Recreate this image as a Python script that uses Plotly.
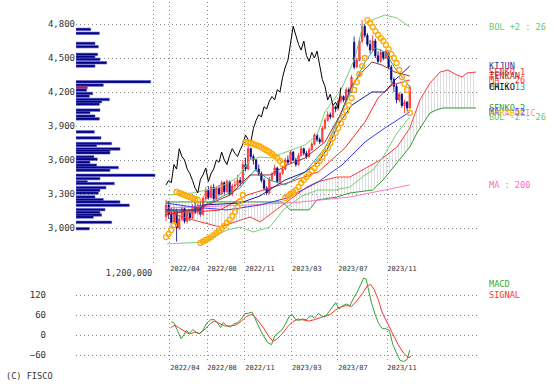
import plotly.graph_objects as go

W, H = 556, 391

# ---------------- data ----------------
week = list(range(93))
open_ = [3100, 3200, 3120, 3050, 3150, 3000, 3080, 3170, 3060, 3130, 3090, 3190, 3140, 3200, 3120, 3260, 3330, 3270, 3360, 3260,
         3350, 3300, 3400, 3320, 3410, 3300, 3370, 3380, 3420, 3400, 3560, 3520, 3700, 3630, 3600, 3520, 3480, 3420, 3350, 3310,
         3430, 3470, 3530, 3410, 3480, 3520, 3600, 3580, 3670, 3600, 3560, 3640, 3700, 3660, 3630, 3690, 3740, 3820, 3780, 3760,
         3880, 3950, 4000, 3980, 4070, 4050, 4120, 4160, 4130, 4220, 4200, 4640, 4420, 4480, 4650, 4780, 4700, 4620, 4570, 4650,
         4520, 4470, 4550, 4500, 4560, 4420, 4310, 4250, 4130, 4180, 4080, 4110, 4060]
high = [3250, 3240, 3180, 3190, 3170, 3110, 3200, 3190, 3150, 3160, 3210, 3230, 3220, 3240, 3280, 3360, 3370, 3380, 3390, 3370,
        3380, 3420, 3410, 3430, 3420, 3390, 3420, 3470, 3450, 3600, 3620, 3730, 3710, 3650, 3610, 3560, 3500, 3440, 3370, 3450,
        3490, 3560, 3540, 3500, 3550, 3620, 3640, 3690, 3680, 3620, 3660, 3720, 3710, 3680, 3710, 3760, 3840, 3830, 3800, 3900,
        3970, 4030, 4020, 4090, 4080, 4140, 4180, 4170, 4240, 4240, 4350, 4690, 4500, 4680, 4835, 4800, 4720, 4660, 4700, 4670,
        4560, 4580, 4560, 4570, 4565, 4440, 4330, 4270, 4200, 4190, 4130, 4120, 4260]
low = [3060, 3080, 3000, 3030, 2880, 2980, 3060, 3040, 3040, 3060, 3080, 3120, 3120, 3100, 3110, 3240, 3250, 3260, 3240, 3250,
       3280, 3290, 3300, 3310, 3290, 3280, 3330, 3360, 3370, 3390, 3500, 3510, 3600, 3560, 3500, 3460, 3400, 3330, 3290, 3300,
       3410, 3460, 3400, 3400, 3470, 3510, 3560, 3570, 3590, 3540, 3550, 3630, 3640, 3610, 3620, 3680, 3730, 3760, 3740, 3750,
       3870, 3940, 3960, 3970, 4020, 4040, 4100, 4110, 4120, 4170, 4190, 4400, 4410, 4470, 4630, 4680, 4600, 4540, 4560, 4500,
       4450, 4460, 4480, 4490, 4400, 4280, 4200, 4100, 4110, 4060, 4015, 4030, 4050]
close = [3200, 3120, 3050, 3150, 3000, 3080, 3170, 3060, 3130, 3090, 3190, 3140, 3200, 3120, 3260, 3330, 3270, 3360, 3260, 3350,
         3300, 3400, 3320, 3410, 3300, 3370, 3380, 3420, 3400, 3560, 3520, 3700, 3630, 3600, 3520, 3480, 3420, 3350, 3310, 3430,
         3470, 3530, 3410, 3480, 3520, 3600, 3580, 3670, 3600, 3560, 3640, 3700, 3660, 3630, 3690, 3740, 3820, 3780, 3760, 3880,
         3950, 4000, 3980, 4070, 4050, 4120, 4160, 4130, 4220, 4200, 4330, 4420, 4480, 4650, 4780, 4700, 4620, 4570, 4650, 4520,
         4470, 4550, 4500, 4560, 4420, 4310, 4250, 4130, 4180, 4080, 4110, 4060, 4240]
chikou_shift = 26

ma13_x = [0, 9, 18.5, 27.9, 33.6, 39.2, 44.9, 52.5, 60, 66.4, 71.3, 75.1, 78.9, 82.6, 86.4, 92]
ma13_y = [3159, 3141, 3247, 3353, 3512, 3423, 3379, 3494, 3706, 4024, 4288, 4465, 4588, 4553, 4412, 4244]
ma26_x = [0, 10.9, 20.4, 30.6, 39.2, 45.7, 57.4, 67.5, 75.1, 80, 85.3, 92]
ma26_y = [3141, 3141, 3159, 3291, 3353, 3397, 3494, 3706, 3935, 4147, 4262, 4306]
ma52_x = [0, 10.2, 23, 35.5, 45.7, 57.4, 66.4, 75.1, 82.6, 92]
ma52_y = [3220, 3185, 3159, 3203, 3265, 3406, 3556, 3759, 3882, 4024]
ma200_x = [0, 31.7, 50.6, 69.4, 92]
ma200_y = [3176, 3203, 3229, 3273, 3380]
kijun_x = [0, 12.8, 14, 27.9, 35.5, 44.9, 52.5, 57.4, 61.1, 64.9, 70.2, 77.7, 82.6, 86.4, 92]
kijun_y = [3159, 3159, 3203, 3220, 3283, 3423, 3494, 3582, 3706, 3909, 4085, 4200, 4200, 4306, 4429]
tenkan_x = [0, 12.8, 24.2, 31.7, 39.2, 45.7, 52.5, 60, 65.7, 70.2, 74, 77.7, 81.5, 86.4, 92]
tenkan_y = [3115, 3176, 3291, 3468, 3468, 3556, 3618, 3759, 3997, 4262, 4376, 4465, 4438, 4376, 4341]
bol_up_x = [0.75, 10.2, 20.4, 26.8, 31.7, 35.5, 39.2, 45.7, 49.4, 52.5, 57, 60, 66.4, 71.3, 74.3, 77.7, 82.6, 87.2, 92]
bol_up_y = [3291, 3309, 3362, 3441, 3600, 3627, 3618, 3671, 3706, 3733, 3821, 4024, 4235, 4500, 4791, 4835, 4879, 4853, 4774]
bol_dn_x = [0.4, 14, 23, 27.9, 32.8, 39.2, 44.2, 51.3, 57.4, 63.8, 69.4, 75.1, 78.1, 81.9, 87.2, 91, 92]
bol_dn_y = [2859, 2876, 2982, 3009, 2965, 3009, 3159, 3283, 3335, 3335, 3362, 3468, 3512, 3627, 3838, 3953, 3980]
senkou1_x = [0, 6, 12, 20.4, 31.7, 35.5, 43, 47.9, 53.2, 57, 64.5, 69.4, 74.3, 80.8, 87.2, 92, 95.8, 99.6, 103.4,
             106.4, 109.8, 111.7, 113.6, 117]
senkou1_y = [3150, 3100, 3060, 3009, 3097, 3053, 3185, 3273, 3362, 3406, 3450, 3450, 3512, 3600, 3715, 3882, 4129, 4279, 4376,
             4394, 4350, 4332, 4368, 4376]
senkou2_x = [0, 20, 44, 46.8, 54, 57, 64.5, 69.4, 78, 81.9, 87.2, 92, 94.7, 97, 99.6, 102, 104.5, 117]
senkou2_y = [3230, 3230, 3230, 3160, 3160, 3247, 3273, 3309, 3335, 3423, 3574, 3715, 3838, 3926, 4015, 4041, 4059, 4059]
sar_y = [2920, 2947, 2982, 3026,
         3318, 3309, 3300, 3291, 3282, 3273, 3265, 3256, 3247,
         2868, 2881, 2894, 2907, 2920, 2938, 2956, 2973, 2996, 3018, 3044, 3071, 3106, 3141, 3185, 3238, 3291,
         3759, 3755, 3750, 3741, 3732, 3724, 3711, 3697, 3684, 3671, 3653, 3635, 3618, 3591, 3565,
         3265, 3282, 3300, 3318, 3335, 3362, 3397, 3423, 3450, 3476, 3503, 3529, 3565, 3591, 3627, 3662, 3706, 3750,
         3794, 3838, 3882, 3926, 3979, 4032, 4085, 4147, 4218, 4288, 4359, 4429, 4500,
         4835, 4809, 4774, 4738, 4703, 4676, 4650, 4615, 4579, 4535, 4500, 4456, 4394, 4332, 4271, 4218,
         4015]

vp_price = [4753, 4718, 4629, 4600, 4532, 4511, 4488, 4458, 4429, 4290, 4261, 4240, 4217, 4187, 4164, 4134, 4114, 4093, 4040,
            4019, 3987, 3963, 3848, 3795, 3745, 3728, 3698, 3681, 3663, 3627, 3607, 3580, 3554, 3533, 3510, 3465, 3436, 3407,
            3392, 3356, 3333, 3309, 3274, 3250, 3230, 3200, 3162, 3138, 3115, 3097, 3050, 2994]
vp_volume = [229000, 364000, 296000, 348000, 338000, 296000, 374000, 478000, 296000, 1164000, 426000, 177000, 166000, 260000,
             208000, 520000, 400000, 364000, 374000, 218000, 296000, 364000, 286000, 390000, 556000, 322000, 686000, 530000,
             530000, 280000, 332000, 218000, 322000, 660000, 530000, 1231000, 374000, 177000, 597000, 468000, 374000, 348000,
             296000, 426000, 686000, 831000, 452000, 374000, 400000, 270000, 556000, 208000]

macd_x = [2, 3, 4.3, 5.7, 6.8, 7.7, 8.8, 10.1, 11.5, 12.6, 13.9, 15.3, 16.9, 18.2, 19.6, 20.6, 21.6, 22.9, 24.3, 25.6,
          27, 28.3, 29.7, 31, 32.4, 33.3, 34.4, 36.4, 38.4, 39.8, 41.1, 42.5, 43.8, 45.2, 46.5, 47.6, 48.9, 50.3, 51.6, 53,
          54.6, 56, 57.6, 58.6, 60, 61.4, 62.7, 64, 65.4, 66.8, 68.1, 69.4, 70.8, 72.1, 73.5, 74.6, 75.5, 76.6, 77.5, 78.9,
          80.2, 81.6, 82.9, 84.3, 85.6, 86.9, 88.3, 89.7, 91, 92]
macd_v = [40, 37, 14, -11, 1, 14, 5, 16, 8, 3, 14, 35, 46, 46, 35, 22, 37, 28, 24, 33,
          37, 46, 64, 65, 69, 56, 35, 3, -23, -29, -2, 8, 16, 35, 56, 62, 46, 44, 48, 46,
          58, 51, 65, 58, 54, 69, 84, 97, 78, 88, 93, 88, 111, 128, 152, 171, 168, 130, 98, 62,
          35, 19, 19, 14, -29, -52, -76, -80, -73, -45]
signal_x = [1.8, 3.4, 4.8, 6.8, 8.8, 10.8, 12.8, 14.9, 16.9, 18.2, 20.2, 22.2, 24.3, 26.3, 28.3, 30.3, 32.4, 33.7, 35, 37,
            39, 40.4, 41.8, 43.8, 45.8, 47.8, 49.9, 51.9, 53.9, 56, 58, 60, 62, 64, 66.1, 68.1, 70.1, 72.1, 74.2, 75.9,
            77.2, 78.6, 80.2, 81.6, 83.6, 85.6, 87.6, 89.7, 91.7, 92.5]
signal_v = [22, 30, 22, 12, 3, 8, 5, 19, 35, 42, 35, 27, 27, 30, 40, 56, 62, 54, 40, 19,
            -7, -18, -13, 3, 24, 40, 48, 44, 42, 46, 51, 56, 62, 75, 85, 88, 86, 104, 125, 147,
            152, 136, 104, 67, 35, 8, -29, -55, -69, -62]

price_ticks = [3000, 3300, 3600, 3900, 4200, 4500, 4800]
price_tick_text = ["3,000", "3,300", "3,600", "3,900", "4,200", "4,500", "4,800"]
date_tick_pos = [1.5, 15.5, 29.8, 47.5, 64.9, 83.4]
date_tick_text = ["2022/04", "2022/08", "2022/11", "2023/03", "2023/07", "2023/11"]
macd_ticks = [-60, 0, 60, 120]
vol_ticks = [1200000]
vol_tick_text = ["1,200,000"]

# ---------------- geometry ----------------
FONT = "DejaVu Sans Mono"
GRID = "#8a8a8a"
X0, X1 = 76, 480
px_per_week, x_first = 2.65, 166
xr = [(X0 - x_first) / px_per_week, (X1 - x_first) / px_per_week]
main_top, main_bot = 2, 263
yen_per_px = 1800 / 204
main_range = [4800 - (main_bot - 24) * yen_per_px, 4800 + (24 - main_top) * yen_per_px]
macd_top, macd_bot = 275, 362
macd_range = [-(macd_bot - 335) * 3, (335 - macd_top) * 3]
vol_full = 1200000 * (X1 - X0) / (153 - X0)

def fy(y):
    return 1 - y / H

fig = go.Figure()

# Ichimoku cloud
fig.add_trace(go.Scatter(x=senkou2_x, y=senkou2_y, mode="lines", line=dict(color="#2e9a2e", width=1),
                         xaxis="x", yaxis="y"))
fig.add_trace(go.Scatter(x=senkou1_x, y=senkou1_y, mode="lines", line=dict(color="#ff3b3b", width=1),
                         fill="tonexty", fillcolor="rgba(255,255,255,0)",
                         fillpattern=dict(shape="|", size=3, solidity=0.25, fgcolor="#aaaaaa", bgcolor="rgba(255,255,255,0)"),
                         xaxis="x", yaxis="y"))

def line(x, y, color):
    fig.add_trace(go.Scatter(x=x, y=y, mode="lines", line=dict(color=color, width=1), xaxis="x", yaxis="y"))

line(ma200_x, ma200_y, "#ff77cc")
line(ma52_x, ma52_y, "#3a3aff")
line(bol_up_x, bol_up_y, "#77d077")
line(bol_dn_x, bol_dn_y, "#77d077")
line(ma26_x, ma26_y, "#ff2a2a")
line(ma13_x, ma13_y, "#2a9d9d")
line(kijun_x, kijun_y, "#1a1a99")
line(tenkan_x, tenkan_y, "#993333")
line([w - chikou_shift for w in week[chikou_shift:]], close[chikou_shift:], "#000000")

fig.add_trace(go.Candlestick(
    x=week, open=open_, high=high, low=low, close=close, xaxis="x", yaxis="y",
    increasing=dict(line=dict(color="#ff1a1a", width=0.8), fillcolor="#ff8080"),
    decreasing=dict(line=dict(color="#000080", width=0.8), fillcolor="#000080"),
    whiskerwidth=0))

fig.add_trace(go.Scatter(x=week, y=sar_y, mode="markers", xaxis="x", yaxis="y",
                         marker=dict(symbol="circle-open", size=5, color="#ffaa00", line=dict(width=1.3, color="#ffaa00"))))

# volume profile
cur = close[-1]
vp_colors = ["#ff0000" if abs(p - cur) < 12 else "#000080" for p in vp_price]
fig.add_trace(go.Bar(x=vp_volume, y=vp_price, orientation="h", width=22, xaxis="x2", yaxis="y",
                     marker=dict(color=vp_colors, line=dict(width=0.6, color="#5a5ad0"))))

# MACD
fig.add_trace(go.Scatter(x=signal_x, y=signal_v, mode="lines", line=dict(color="#ff3333", width=1), xaxis="x3", yaxis="y3"))
fig.add_trace(go.Scatter(x=macd_x, y=macd_v, mode="lines", line=dict(color="#33a033", width=1), xaxis="x3", yaxis="y3"))

# labels
labels = [("BOL +2 : 26", bol_up_y[-1], "#66cc66"), ("KIJUN", kijun_y[-1], "#333399"),
          ("SENKO 1", senkou1_y[-1], "#ff3333"), ("MA : 26", ma26_y[-1], "#ff3333"),
          ("TENKAN", tenkan_y[-1], "#993333"), ("MA : 13", ma13_y[-1], "#339999"),
          ("CHIKO", close[-1], "#000000"), ("SENKO 2", senkou2_y[-1], "#339933"),
          ("MA : 52", ma52_y[-1], "#3333ff"), ("PARABOLIC", sar_y[-1], "#ffaa00"),
          ("BOL -2 : 26", bol_dn_y[-1], "#66cc66"), ("MA : 200", ma200_y[-1], "#ff66cc")]
LBL = 8.6
ann = []
for text, yv, col in labels:
    ann.append(dict(text=text, x=488 / W, xref="paper", y=yv, yref="y", xanchor="left", yanchor="middle",
                    showarrow=False, borderpad=0, font=dict(family=FONT, size=LBL, color=col)))
ann.append(dict(text="MACD", x=488 / W, xref="paper", y=fy(284), yref="paper", xanchor="left", yanchor="middle",
                showarrow=False, borderpad=0, font=dict(family=FONT, size=LBL, color="#33aa33")))
ann.append(dict(text="SIGNAL", x=488 / W, xref="paper", y=fy(295), yref="paper", xanchor="left", yanchor="middle",
                showarrow=False, borderpad=0, font=dict(family=FONT, size=LBL, color="#ff3333")))
ann.append(dict(text="(C) FISCO", x=5 / W, xref="paper", y=fy(376), yref="paper", xanchor="left", yanchor="middle",
                showarrow=False, borderpad=0, font=dict(family=FONT, size=LBL, color="#333333")))

grid_common = dict(showgrid=True, gridcolor=GRID, griddash="1px,3px", gridwidth=1, zeroline=False, showline=False,
                   ticks="", fixedrange=True)

fig.update_layout(
    width=W, height=H, margin=dict(l=0, r=0, t=0, b=0),
    paper_bgcolor="white", plot_bgcolor="white", showlegend=False,
    font=dict(family=FONT, size=9, color="#333333"),
    annotations=ann,
    xaxis=dict(domain=[X0 / W, X1 / W], range=xr, anchor="y", tickvals=date_tick_pos, ticktext=date_tick_text,
               tickfont=dict(size=7, color="#333333"), ticklabelshift=15, rangeslider=dict(visible=False), **grid_common),
    xaxis2=dict(domain=[X0 / W, X1 / W], range=[0, vol_full], anchor="y", overlaying="x", side="bottom",
                tickvals=vol_ticks, ticktext=vol_tick_text, tickfont=dict(size=8.6, color="#333333"),
                ticklabelshift=-24, ticklabelstandoff=3, **grid_common),
    yaxis=dict(domain=[fy(main_bot), fy(main_top)], range=main_range, anchor="x", tickvals=price_ticks,
               ticktext=price_tick_text, tickfont=dict(size=9, color="#333333"), **grid_common),
    xaxis3=dict(domain=[X0 / W, X1 / W], range=xr, anchor="y3", tickvals=date_tick_pos, ticktext=date_tick_text,
                tickfont=dict(size=7, color="#333333"), ticklabelshift=15, **grid_common),
    yaxis3=dict(domain=[fy(macd_bot), fy(macd_top)], range=macd_range, anchor="x3", tickvals=macd_ticks,
                tickfont=dict(size=9, color="#333333"), ticklabelstandoff=29, **grid_common),
)

fig.write_html("out.html", config={"displayModeBar": False, "staticPlot": True},
               post_script="document.body.style.margin='0';document.body.style.overflow='hidden';")
